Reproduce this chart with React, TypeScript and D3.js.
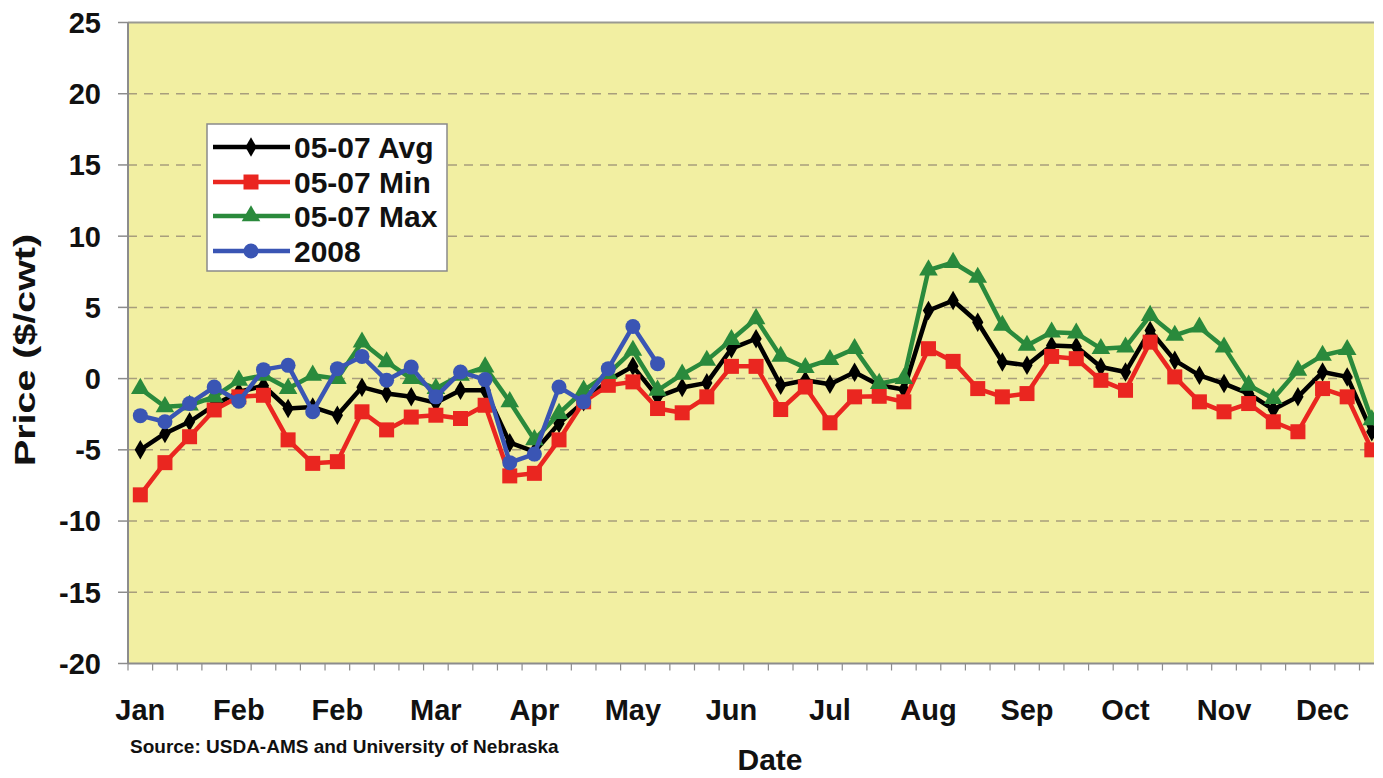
import React from "react";
import * as d3 from "d3";

const monthLabels = ["Jan", "Feb", "Feb", "Mar", "Apr", "May", "Jun", "Jul", "Aug", "Sep", "Oct", "Nov", "Dec"];
const weekCount = 52;
const yTicks = [25, 20, 15, 10, 5, 0, -5, -10, -15, -20];

const avgValues = [-5.0, -3.85, -3.03, -1.87, -0.94, -0.5, -2.1, -2.0, -2.57, -0.6, -1.05, -1.28, -1.7, -0.82, -0.82, -4.5, -5.13, -3.15, -1.63, -0.12, 0.86, -1.28, -0.63, -0.3, 2.1, 2.8, -0.47, -0.12, -0.4, 0.45, -0.47, -0.77, 4.78, 5.48, 3.96, 1.17, 0.93, 2.33, 2.26, 0.81, 0.46, 3.38, 1.28, 0.23, -0.35, -1.05, -2.17, -1.28, 0.46, 0.12, -3.73];
const minValues = [-8.16, -5.9, -4.08, -2.2, -1.28, -1.17, -4.3, -5.95, -5.83, -2.33, -3.6, -2.7, -2.57, -2.8, -1.87, -6.83, -6.65, -4.3, -1.63, -0.47, -0.23, -2.1, -2.4, -1.28, 0.86, 0.86, -2.17, -0.59, -3.1, -1.28, -1.24, -1.63, 2.1, 1.21, -0.7, -1.28, -1.05, 1.56, 1.4, -0.12, -0.82, 2.56, 0.12, -1.63, -2.33, -1.75, -3.03, -3.73, -0.7, -1.28, -5.0];
const maxValues = [-0.7, -1.98, -1.87, -1.28, -0.12, 0.23, -0.7, 0.23, 0.0, 2.56, 1.17, 0.0, -0.7, 0.23, 0.81, -1.63, -4.3, -2.45, -0.82, 0.35, 1.98, -0.82, 0.3, 1.28, 2.73, 4.2, 1.56, 0.77, 1.33, 2.1, -0.35, 0.0, 7.62, 8.15, 7.1, 3.73, 2.33, 3.26, 3.19, 2.1, 2.21, 4.43, 3.03, 3.61, 2.21, -0.47, -1.4, 0.58, 1.63, 2.03, -2.9];
const values2008 = [-2.6, -3.03, -1.75, -0.59, -1.59, 0.63, 0.93, -2.33, 0.7, 1.56, -0.12, 0.81, -1.28, 0.46, -0.07, -5.9, -5.3, -0.59, -1.63, 0.7, 3.66, 1.05];

const seriesNames = ["05-07 Avg", "05-07 Min", "05-07 Max", "2008"];

const W = 1383;
const H = 778;
const plotLeft = 128;
const plotRight = 1374;
const plotTop = 22.5;
const plotBottom = 663.5;
const bandW = 24.63;

const FONT = "'Liberation Sans', Arial, Helvetica, sans-serif";

const COLORS = {
  avg: "#000000",
  min: "#EA2620",
  max: "#2A8A3C",
  y2008: "#3A55B4",
  bg: "#F2EFA2",
  grid: "#A89E7C",
  axis: "#8C8C8C",
};

type Series = { name: string; values: number[]; color: string; marker: string };

const series: Series[] = [
  { name: seriesNames[0], values: avgValues, color: COLORS.avg, marker: "diamond" },
  { name: seriesNames[1], values: minValues, color: COLORS.min, marker: "square" },
  { name: seriesNames[2], values: maxValues, color: COLORS.max, marker: "triangle" },
  { name: seriesNames[3], values: values2008, color: COLORS.y2008, marker: "circle" },
];

function Marker({ type, x, y, color }: { type: string; x: number; y: number; color: string }) {
  if (type === "circle") return <circle cx={x} cy={y} r={7.5} fill={color} />;
  if (type === "square") return <rect x={x - 7.5} y={y - 7.5} width={15} height={15} fill={color} />;
  const sym = type === "diamond" ? d3.symbol(d3.symbolDiamond, 110) : d3.symbol(d3.symbolTriangle, 150);
  return <path d={sym() || ""} transform={`translate(${x},${y})`} fill={color} />;
}

export default function App() {
  const domain = d3.range(weekCount);
  const x = d3
    .scaleBand<number>()
    .domain(domain)
    .range([plotLeft, plotLeft + weekCount * bandW])
    .padding(0);
  const y = d3.scaleLinear().domain([-20, 25]).range([plotBottom, plotTop]);
  const cx = (i: number) => (x(i) as number) + x.bandwidth() / 2;

  const line = d3
    .line<number>()
    .x((_, i) => cx(i))
    .y((v) => y(v));

  const boundaries = d3.range(weekCount + 1).map((i) => plotLeft + i * x.bandwidth()).filter((v) => v <= plotRight + 0.5);

  const legendX = 207;
  const legendY = 124;
  const legendRows = [147, 182, 216, 251];

  return (
    <svg
      width={W}
      height={H}
      style={{ position: "absolute", left: 0, top: 0, display: "block", background: "#fff" }}
      fontFamily={FONT}
    >
      <defs>
        <clipPath id="plotClip">
          <rect x={plotLeft} y={0} width={plotRight - plotLeft} height={plotBottom + 10} />
        </clipPath>
      </defs>
      <rect x={plotLeft} y={plotTop} width={plotRight - plotLeft} height={plotBottom - plotTop} fill={COLORS.bg} />
      {yTicks
        .filter((t) => t !== 25 && t !== -20)
        .map((t) => (
          <line key={t} x1={plotLeft} x2={plotRight} y1={y(t)} y2={y(t)} stroke={COLORS.grid} strokeWidth={1.5} strokeDasharray="9,7" />
        ))}
      <line x1={plotLeft} x2={plotRight} y1={plotTop} y2={plotTop} stroke="#9A9A92" strokeWidth={2} />
      <line x1={plotLeft} x2={plotLeft} y1={plotTop} y2={plotBottom} stroke={COLORS.axis} strokeWidth={2} />
      {yTicks.map((t) => (
        <g key={t}>
          <line x1={plotLeft - 10} x2={plotLeft} y1={y(t)} y2={y(t)} stroke={COLORS.axis} strokeWidth={1.5} />
          <text x={101} y={y(t)} dy="0.36em" textAnchor="end" fontSize={29} fontWeight="bold" fill="#111">
            {t}
          </text>
        </g>
      ))}
      <line x1={plotLeft} x2={plotRight} y1={plotBottom} y2={plotBottom} stroke={COLORS.axis} strokeWidth={2} />
      {boundaries.map((b, i) => (
        <line key={i} x1={b} x2={b} y1={plotBottom} y2={plotBottom + 7} stroke={COLORS.axis} strokeWidth={1.2} />
      ))}
      {monthLabels.map((m, k) => (
        <text key={k} x={cx(k * 4)} y={720} textAnchor="middle" fontSize={29} fontWeight="bold" fill="#111">
          {m}
        </text>
      ))}
      <g clipPath="url(#plotClip)">
        {series.map((s) => (
          <g key={s.name}>
            <path d={line(s.values) || ""} fill="none" stroke={s.color} strokeWidth={4.5} strokeLinejoin="round" />
            {s.values.map((v, i) => (
              <Marker key={i} type={s.marker} x={cx(i)} y={y(v)} color={s.color} />
            ))}
          </g>
        ))}
      </g>
      <rect x={legendX} y={legendY} width={240} height={147} fill="#fff" stroke="#8A8A8A" strokeWidth={1.5} />
      {series.map((s, i) => (
        <g key={s.name}>
          <line x1={213} x2={290} y1={legendRows[i]} y2={legendRows[i]} stroke={s.color} strokeWidth={4.5} />
          <Marker type={s.marker} x={251} y={legendRows[i]} color={s.color} />
          <text x={294} y={legendRows[i]} dy="0.36em" fontSize={30} fontWeight="bold" fill="#111">
            {s.name}
          </text>
        </g>
      ))}
      <text
        transform={`translate(35,350) rotate(-90)`}
        textAnchor="middle"
        fontSize={30}
        fontWeight="bold"
        fill="#111"
        textLength={232}
        lengthAdjust="spacingAndGlyphs"
      >
        Price ($/cwt)
      </text>
      <text x={770} y={770} textAnchor="middle" fontSize={30} fontWeight="bold" fill="#111">
        Date
      </text>
      <text x={130} y={753} fontSize={19} fontWeight="bold" fill="#111">
        Source: USDA-AMS and University of Nebraska
      </text>
    </svg>
  );
}
